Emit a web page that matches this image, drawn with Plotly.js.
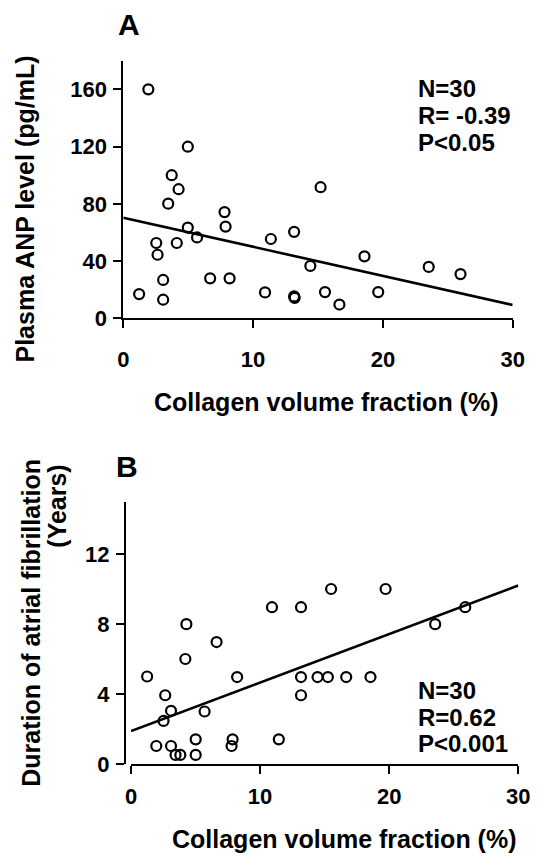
<!DOCTYPE html>
<html>
<head>
<meta charset="utf-8">
<script src="https://cdn.plot.ly/plotly-3.0.1.min.js"></script>
<style>html,body{margin:0;padding:0;background:#fff;}#chart{width:537px;height:856px;}</style>
</head>
<body>
<div id="chart"></div>
<script>
// Panel A: collagen volume fraction (%) vs plasma ANP level (pg/mL)
const collagenA = [1.93,1.22,2.54,2.64,3.07,3.07,3.46,3.73,4.12,4.26,4.97,4.97,5.68,6.69,7.80,7.88,8.19,10.92,11.37,13.16,13.16,13.20,14.41,15.20,15.54,16.65,18.58,19.64,23.53,25.98];
const anpA = [160,16.9,52.6,44.4,26.8,13.0,80.1,100,52.6,90.2,119.9,63.4,56.5,27.9,74.2,64.1,27.9,18.1,55.4,60.4,15.3,14.3,36.6,91.6,18.3,9.6,43.3,18.3,35.9,30.9];
const fitXA = [0, 30];
const fitYA = [70.3, 9.3];
const statsA = ['N=30', 'R= -0.39', 'P<0.05'];
const yTicksA = [0, 40, 80, 120, 160];

// Panel B: collagen volume fraction (%) vs duration of atrial fibrillation (years)
const collagenB = [1.25,1.96,2.65,2.52,3.10,3.10,3.45,3.82,4.29,4.21,5.01,5.01,5.70,6.63,7.87,7.79,8.22,10.92,11.45,13.17,13.17,13.17,14.45,15.25,15.50,16.67,18.55,19.72,23.56,25.89];
const durationB = [5,1.03,3.93,2.46,3.04,1.03,0.52,0.52,7.99,6.0,1.41,0.52,3.0,6.97,1.41,1.03,4.97,8.96,1.41,8.96,4.97,3.93,4.97,4.97,10.0,4.97,4.97,10.0,7.99,8.96];
const fitXB = [0, 30];
const fitYB = [1.88, 10.2];
const statsB = ['N=30', 'R=0.62', 'P<0.001'];
const yTicksB = [0, 4, 8, 12];
const xTicks = [0, 10, 20, 30];

const W = 537, H = 856;
const px = x => x / W;
const py = y => 1 - y / H;
const FONT = 'Liberation Sans, Arial, Helvetica, sans-serif';

const markerStyle = {symbol: 'circle-open', size: 10, color: '#000', line: {width: 2.2, color: '#000'}};

const traces = [
  {x: collagenA, y: anpA, type: 'scatter', mode: 'markers', marker: markerStyle, xaxis: 'x', yaxis: 'y', cliponaxis: false, hoverinfo: 'x+y'},
  {x: fitXA, y: fitYA, type: 'scatter', mode: 'lines', line: {color: '#000', width: 2.6}, xaxis: 'x', yaxis: 'y', cliponaxis: false},
  {x: collagenB, y: durationB, type: 'scatter', mode: 'markers', marker: markerStyle, xaxis: 'x2', yaxis: 'y2', cliponaxis: false, hoverinfo: 'x+y'},
  {x: fitXB, y: fitYB, type: 'scatter', mode: 'lines', line: {color: '#000', width: 2.6}, xaxis: 'x2', yaxis: 'y2', cliponaxis: false}
];

const axisCommon = {
  showline: true, linewidth: 2, linecolor: '#000', showgrid: false, zeroline: false,
  ticks: 'outside', ticklen: 8, tickwidth: 2, tickcolor: '#000',
  tickfont: {family: FONT, size: 22, weight: 700, color: '#000'},
  fixedrange: true
};

const ann = [];
function addText(text, x, y, size, opts) {
  ann.push(Object.assign({
    text: text, x: px(x), y: py(y), xref: 'paper', yref: 'paper',
    showarrow: false, xanchor: 'center', yanchor: 'middle',
    font: {family: FONT, size: size, weight: 700, color: '#000'}
  }, opts || {}));
}

// Panel letters
addText('A', 128.5, 24.5, 30);
addText('B', 127, 466, 30);
// Stats
const statYA = [88.3, 115.3, 142.3];
statsA.forEach((t, i) => addText(t, 416, statYA[i], 24, {xanchor: 'left'}));
const statYB = [690.2, 717.6, 743.7];
statsB.forEach((t, i) => addText(t, 416, statYB[i], 24, {xanchor: 'left'}));
// Axis titles
addText('Collagen volume fraction (%)', 325.7, 402, 25);
addText('Plasma ANP level (pg/mL)', 25, 209.5, 25, {textangle: -90});
addText('Collagen volume fraction (%)', 344, 839, 25);
addText('Duration of atrial fibrillation', 30.8, 623, 25, {textangle: -90});
addText('(Years)', 56.7, 506, 25, {textangle: -90});

const layout = {
  width: W, height: H,
  margin: {l: 0, r: 0, t: 0, b: 0},
  paper_bgcolor: '#fff', plot_bgcolor: '#fff',
  showlegend: false,
  font: {family: FONT, color: '#000'},
  xaxis: Object.assign({}, axisCommon, {
    domain: [px(123.3), px(512.7)], range: [0, 30], tickvals: xTicks, anchor: 'y',
    ticklabelstandoff: 12
  }),
  yaxis: Object.assign({}, axisCommon, {
    domain: [py(318.3), py(60.7)], range: [0, 180], tickvals: yTicksA, anchor: 'x',
    ticklabelstandoff: 2
  }),
  xaxis2: Object.assign({}, axisCommon, {
    domain: [px(131), px(518.3)], range: [0, 30], tickvals: xTicks, anchor: 'y2',
    ticklabelstandoff: 4
  }),
  yaxis2: Object.assign({}, axisCommon, {
    domain: [py(764), py(501.5)], range: [0, 15], tickvals: yTicksB, anchor: 'free',
    position: px(125), ticklabelstandoff: 2
  }),
  annotations: ann
};

Plotly.newPlot('chart', traces, layout, {staticPlot: true, displayModeBar: false});
</script>
</body>
</html>
